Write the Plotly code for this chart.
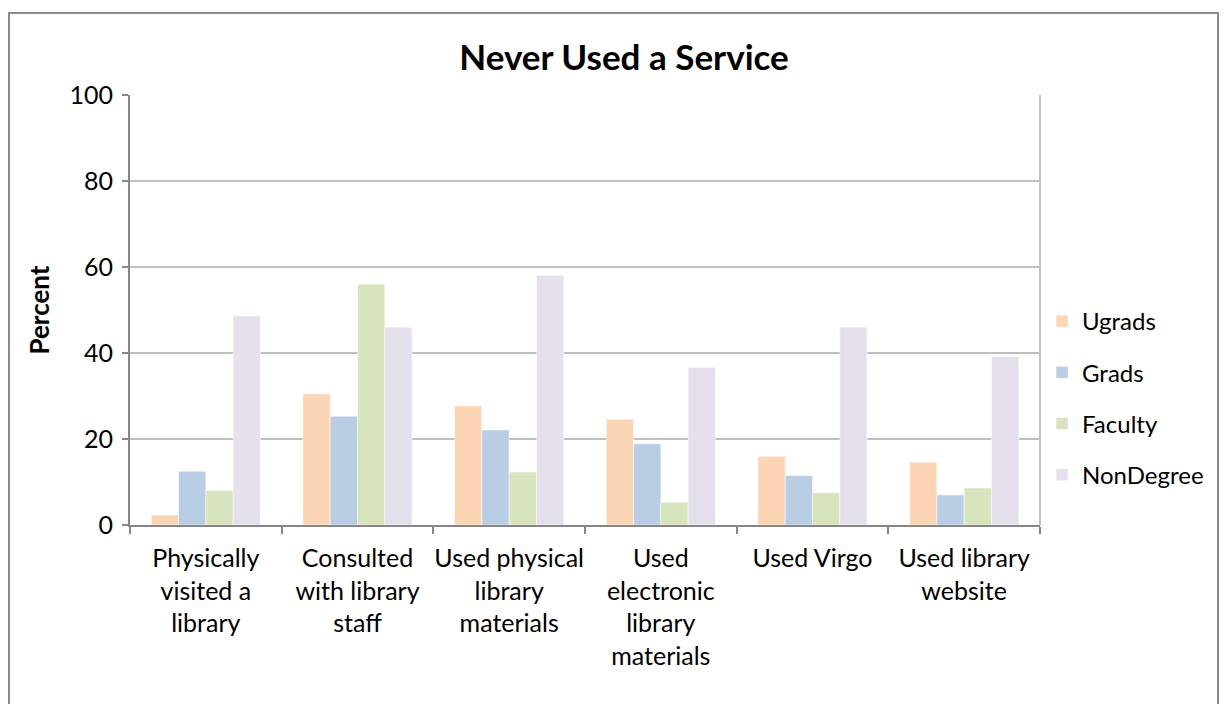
import plotly.graph_objects as go

categories = [
    "Physically<br>visited a<br>library",
    "Consulted<br>with library<br>staff",
    "Used physical<br>library<br>materials",
    "Used<br>electronic<br>library<br>materials",
    "Used Virgo",
    "Used library<br>website",
]
ugrads = [2.3, 30.5, 27.7, 24.6, 16.0, 14.6]
grads = [12.5, 25.3, 22.1, 18.9, 11.5, 7.0]
faculty = [8.0, 56.0, 12.3, 5.3, 7.5, 8.6]
nondegree = [48.6, 46.0, 58.1, 36.6, 46.0, 39.2]

series = [
    ("Ugrads", ugrads, "#FCD5B5"),
    ("Grads", grads, "#B9CDE5"),
    ("Faculty", faculty, "#D7E4BD"),
    ("NonDegree", nondegree, "#E6E0EC"),
]

FONT = "Lato"

fig = go.Figure()
for name, vals, color in series:
    fig.add_trace(go.Bar(
        name=name, x=categories, y=vals,
        marker=dict(color=color, line=dict(color="white", width=0.5)),
        legendgroup=name,
    ))

fig.update_layout(
    width=1225, height=704,
    paper_bgcolor="white", plot_bgcolor="white",
    barmode="group", bargap=0.28, bargroupgap=0,
    margin=dict(l=130, r=185, t=95, b=179),
    font=dict(family=FONT, size=24, color="black"),
    title=dict(text="<b>Never Used a Service</b>", x=624 / 1225, xanchor="center",
               y=1 - 58 / 704, yanchor="middle",
               font=dict(family=FONT, size=35, color="black")),
    legend=dict(x=(1042 - 130) / 910, xanchor="left", y=(525 - 398) / 430, yanchor="middle",
                font=dict(family=FONT, size=24), tracegroupgap=17,
                itemwidth=30),
    showlegend=True,
)
fig.update_yaxes(
    range=[0, 100], dtick=20, showgrid=True, gridcolor="#BFBFBF", gridwidth=2,
    showline=True, linecolor="#868686", linewidth=2,
    ticks="outside", ticklen=6, tickcolor="#868686", tickwidth=2,
    tickfont=dict(family=FONT, size=25), ticklabelstandoff=4,
    title=dict(text="<b>Percent</b>", font=dict(family=FONT, size=26), standoff=12),
    zeroline=False, automargin=False,
)
fig.update_xaxes(
    showline=True, linecolor="#868686", linewidth=2,
    ticks="outside", tickson="boundaries", ticklen=7, tickcolor="#868686", tickwidth=2,
    tickfont=dict(family=FONT, size=25), ticklabelstandoff=10, tickangle=0,
    automargin=False,
)
# right plot-area border
fig.add_shape(type="line", xref="x domain", yref="y", x0=1, x1=1, y0=0, y1=100,
              line=dict(color="#BFBFBF", width=2))
# chart outer border
fig.add_shape(type="rect", xref="paper", yref="paper",
              x0=-121 / 910, x1=1 + 178 / 910, y0=-200 / 430, y1=1 + 82 / 430,
              line=dict(color="#8C8C8C", width=2), fillcolor="rgba(0,0,0,0)", layer="below")

fig.write_html("out.html")
